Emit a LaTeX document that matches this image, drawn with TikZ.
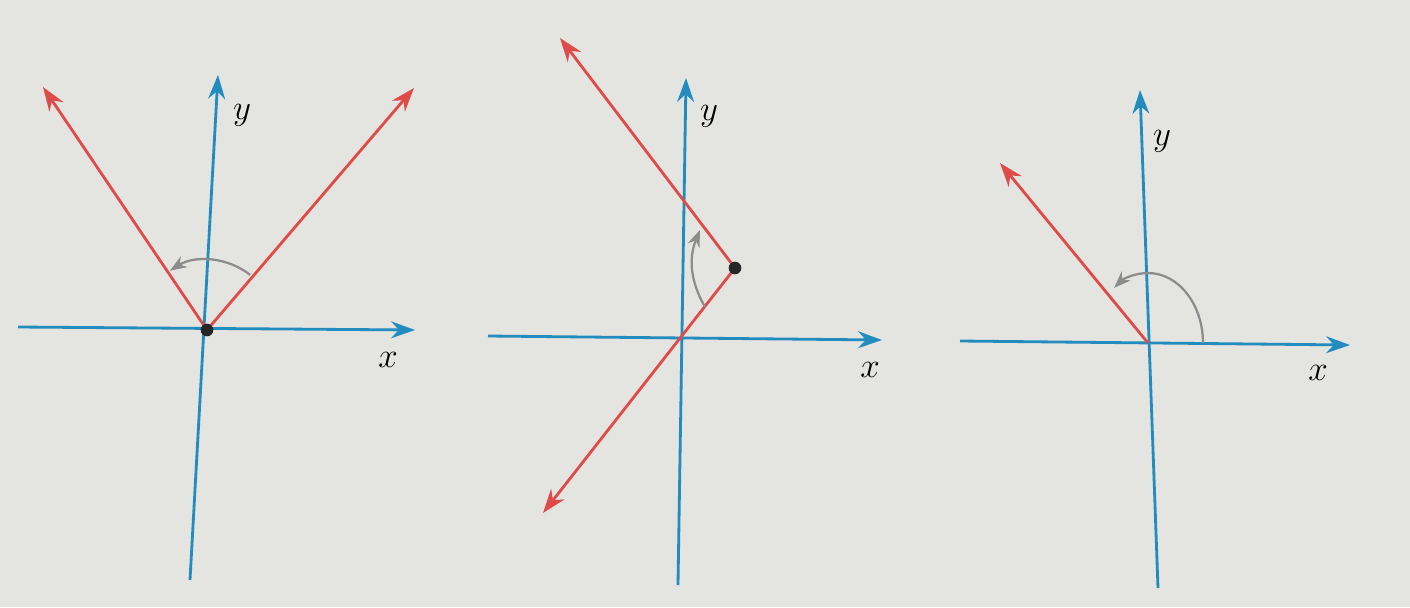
\documentclass[tikz,border=0pt]{standalone}
\usetikzlibrary{arrows.meta}
\definecolor{axisblue}{RGB}{35,140,190}
\definecolor{rayred}{RGB}{222,75,72}
\definecolor{arcgray}{RGB}{140,140,140}
\definecolor{paper}{RGB}{228,228,224}
\tikzset{
	axis/.style={axisblue,line width=2pt,-{Stealth[length=17pt,width=12pt]}},
	ray/.style={rayred,line width=2pt,-{Stealth[length=17pt,width=12pt]}},
	turn/.style={arcgray,line width=1.6pt,-{Stealth[length=12pt,width=9pt]}},
	lbl/.style={font=\fontsize{32}{38}\selectfont},
	pivot/.style={circle,fill=black!85,inner sep=0pt,minimum size=9pt}
}
\begin{document}
\begin{tikzpicture}[x=0.025cm,y=-0.025cm]
	\fill[paper] (0,0) rectangle (1410,607);
	\useasboundingbox (0,0) rectangle (1410,607);
	% first picture
	\coordinate (oA) at (207,330);
	\coordinate (xA0) at (18,327);
	\coordinate (xA1) at (415,330);
	\coordinate (yA0) at (190,580);
	\coordinate (yA1) at (218,75);
	\coordinate (rA1) at (43,87);
	\coordinate (rA2) at (414,88);
	\draw[axis] (xA0) -- (xA1);
	\draw[axis] (yA0) -- (yA1);
	\draw[ray] (oA) -- (rA1);
	\draw[ray] (oA) -- (rA2);
	\draw[turn] ([shift={(-52:70)}]oA) arc[start angle=-52,end angle=-122,radius=70];
	\node[pivot] (pA) at (oA) {};
	\node[lbl] (yA) at (242,115) {$y$};
	\node[lbl] (xA) at (388,360) {$x$};
	% second picture
	\coordinate (oB) at (681,337);
	\coordinate (xB0) at (488,336);
	\coordinate (xB1) at (882,340);
	\coordinate (yB0) at (678,585);
	\coordinate (yB1) at (686,78);
	\coordinate (dB) at (735,268);
	\coordinate (rB1) at (560,38);
	\coordinate (rB2) at (543,513);
	\coordinate (tB0) at (705,307);
	\coordinate (tB1) at (700,230);
	\draw[axis] (xB0) -- (xB1);
	\draw[axis] (yB0) -- (yB1);
	\draw[ray] (dB) -- (rB1);
	\draw[ray] (dB) -- (rB2);
	\draw[turn] (tB0) to[bend left=26] (tB1);
	\node[pivot] (pB) at (dB) {};
	\node[lbl] (yB) at (709,116) {$y$};
	\node[lbl] (xB) at (870,370) {$x$};
	% third picture
	\coordinate (oC) at (1148,343);
	\coordinate (xC0) at (960,341);
	\coordinate (xC1) at (1350,345);
	\coordinate (yC0) at (1158,588);
	\coordinate (yC1) at (1140,90);
	\coordinate (rC1) at (1000,163);
	\draw[axis] (xC0) -- (xC1);
	\draw[axis] (yC0) -- (yC1);
	\draw[ray] (oC) -- (rC1);
	\draw[turn] ([shift={(0:55)}]oC) arc[start angle=0,end angle=-128,x radius=55,y radius=70];
	\node[lbl] (yC) at (1162,141) {$y$};
	\node[lbl] (xC) at (1318,373) {$x$};
\end{tikzpicture}
\end{document}
